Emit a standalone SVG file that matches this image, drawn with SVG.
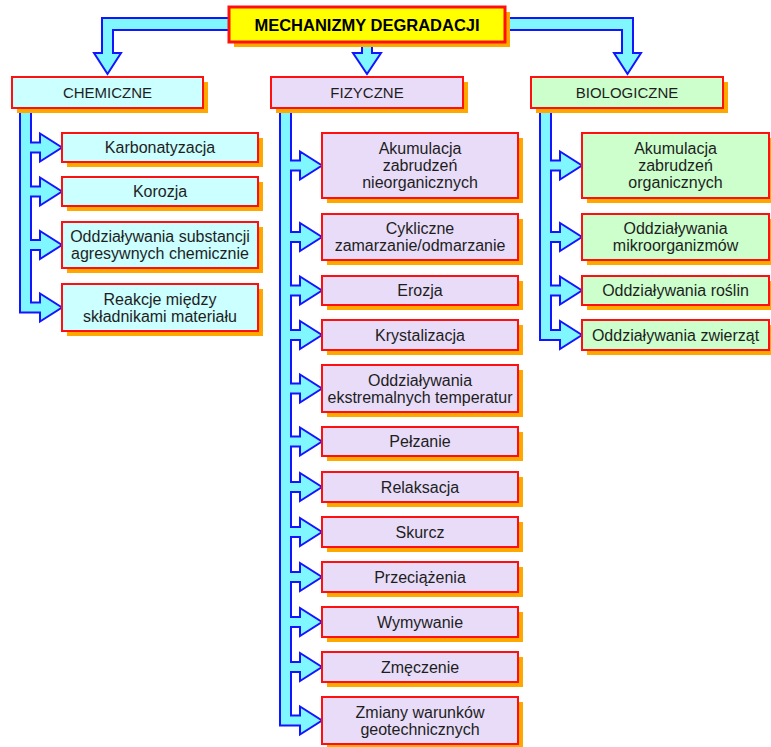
<svg xmlns="http://www.w3.org/2000/svg" width="771" height="747" viewBox="0 0 771 747">
  <style>
    .conn { fill: #80f6ff; stroke: #1414ff; stroke-width: 2; stroke-linejoin: miter; }
    .shadow { fill: #ffa800; }
    .box { stroke: #ff1010; stroke-width: 2; }
    .chem { fill: #ccffff; }
    .fiz { fill: #e8dcf8; }
    .bio { fill: #ccffcc; }
    .root { fill: #ffff00; stroke: #ff1010; stroke-width: 3; }
    text { font-family: "Liberation Sans", "DejaVu Sans", sans-serif; fill: #1e1e1e; text-anchor: middle; }
    .t { font-size: 16px; }
    .cat { font-size: 15px; }
    .title { font-size: 16.5px; font-weight: bold; fill: #000; }
  </style>
  <rect width="771" height="747" fill="#ffffff"/>

  <!-- connectors -->
  <g id="connectors">
    <polygon class="conn" points="235,18 102,18 102,53 94,53 107.5,74 121,53 113,53 113,30 235,30"/>
    <polygon class="conn" points="362,40 372,40 372,53 381,53 367,74 353,53 362,53"/>
    <polygon class="conn" points="500,18 633,18 633,53 641,53 627.5,74 614,53 622,53 622,30 500,30"/>
    <polygon class="conn" points="20,104 31,104
      31,142.5 40,142.5 40,133.5 62,147.5 40,161.5 40,152.5 31,152.5
      31,186.5 40,186.5 40,177.5 62,191.5 40,205.5 40,196.5 31,196.5
      31,240 40,240 40,231 62,245 40,259 40,250 31,250
      31,302.5 40,302.5 40,293.5 62,307.5 40,321.5 40,312.5 20,312.5"/>
    <polygon class="conn" points="280,104 291,104
      291,160.5 300,160.5 300,151.5 322,165.5 300,179.5 300,170.5 291,170.5
      291,232 300,232 300,223 322,237 300,251 300,242 291,242
      291,285.5 300,285.5 300,276.5 322,290.5 300,304.5 300,295.5 291,295.5
      291,330 300,330 300,321 322,335 300,349 300,340 291,340
      291,383.5 300,383.5 300,374.5 322,388.5 300,402.5 300,393.5 291,393.5
      291,436.5 300,436.5 300,427.5 322,441.5 300,455.5 300,446.5 291,446.5
      291,482 300,482 300,473 322,487 300,501 300,492 291,492
      291,527 300,527 300,518 322,532 300,546 300,537 291,537
      291,572 300,572 300,563 322,577 300,591 300,582 291,582
      291,617 300,617 300,608 322,622 300,636 300,627 291,627
      291,662 300,662 300,653 322,667 300,681 300,672 291,672
      291,715.5 300,715.5 300,706.5 322,720.5 300,734.5 300,725.5 280,725.5"/>
    <polygon class="conn" points="540,104 551,104
      551,160.5 560,160.5 560,151.5 582,165.5 560,179.5 560,170.5 551,170.5
      551,232 560,232 560,223 582,237 560,251 560,242 551,242
      551,285.5 560,285.5 560,276.5 582,290.5 560,304.5 560,295.5 551,295.5
      551,330 560,330 560,321 582,335 560,349 560,340 540,340"/>
  </g>

  <!-- root -->
  <g id="root">
    <rect class="shadow" x="234" y="12" width="276" height="35"/>
    <rect class="root" x="229" y="7" width="276" height="35"/>
    <text class="title" x="367" y="30.5">MECHANIZMY DEGRADACJI</text>
  </g>

  <!-- categories -->
  <g id="chemiczne">
    <rect class="shadow" x="17" y="82" width="191" height="31"/>
    <rect class="box chem" x="12" y="77" width="191" height="31"/>
    <text class="cat" x="107.5" y="98">CHEMICZNE</text>
  </g>
  <g id="fizyczne">
    <rect class="shadow" x="276" y="82" width="192" height="31"/>
    <rect class="box fiz" x="271" y="77" width="192" height="31"/>
    <text class="cat" x="367" y="98">FIZYCZNE</text>
  </g>
  <g id="biologiczne">
    <rect class="shadow" x="536" y="82" width="192" height="31"/>
    <rect class="box bio" x="531" y="77" width="192" height="31"/>
    <text class="cat" x="627" y="98">BIOLOGICZNE</text>
  </g>

  <!-- chemical mechanisms -->
  <g id="karbonatyzacja">
    <rect class="shadow" x="67" y="138" width="196" height="29"/>
    <rect class="box chem" x="62" y="133" width="196" height="29"/>
    <text class="t" x="160" y="153">Karbonatyzacja</text>
  </g>
  <g id="korozja">
    <rect class="shadow" x="67" y="182" width="196" height="29"/>
    <rect class="box chem" x="62" y="177" width="196" height="29"/>
    <text class="t" x="160" y="197">Korozja</text>
  </g>
  <g id="substancje-agresywne">
    <rect class="shadow" x="67" y="227" width="196" height="46"/>
    <rect class="box chem" x="62" y="222" width="196" height="46"/>
    <text class="t" x="160" y="242">Oddziaływania substancji</text>
    <text class="t" x="160" y="259">agresywnych chemicznie</text>
  </g>
  <g id="reakcje">
    <rect class="shadow" x="67" y="289" width="196" height="47"/>
    <rect class="box chem" x="62" y="284" width="196" height="47"/>
    <text class="t" x="160" y="304.5">Reakcje między</text>
    <text class="t" x="160" y="321.5">składnikami materiału</text>
  </g>

  <!-- physical mechanisms -->
  <g id="akumulacja-nieorg">
    <rect class="shadow" x="327" y="138" width="196" height="65"/>
    <rect class="box fiz" x="322" y="133" width="196" height="65"/>
    <text class="t" x="420" y="154">Akumulacja</text>
    <text class="t" x="420" y="171">zabrudzeń</text>
    <text class="t" x="420" y="188">nieorganicznych</text>
  </g>
  <g id="cykliczne">
    <rect class="shadow" x="327" y="219" width="196" height="46"/>
    <rect class="box fiz" x="322" y="214" width="196" height="46"/>
    <text class="t" x="420" y="234">Cykliczne</text>
    <text class="t" x="420" y="251">zamarzanie/odmarzanie</text>
  </g>
  <g id="erozja">
    <rect class="shadow" x="327" y="281" width="196" height="29"/>
    <rect class="box fiz" x="322" y="276" width="196" height="29"/>
    <text class="t" x="420" y="296">Erozja</text>
  </g>
  <g id="krystalizacja">
    <rect class="shadow" x="327" y="325" width="196" height="30"/>
    <rect class="box fiz" x="322" y="320" width="196" height="30"/>
    <text class="t" x="420" y="340.5">Krystalizacja</text>
  </g>
  <g id="temperatury">
    <rect class="shadow" x="327" y="370" width="196" height="47"/>
    <rect class="box fiz" x="322" y="365" width="196" height="47"/>
    <text class="t" x="420" y="385.5">Oddziaływania</text>
    <text class="t" x="420" y="402.5">ekstremalnych temperatur</text>
  </g>
  <g id="pelzanie">
    <rect class="shadow" x="327" y="432" width="196" height="29"/>
    <rect class="box fiz" x="322" y="427" width="196" height="29"/>
    <text class="t" x="420" y="447">Pełzanie</text>
  </g>
  <g id="relaksacja">
    <rect class="shadow" x="327" y="477" width="196" height="30"/>
    <rect class="box fiz" x="322" y="472" width="196" height="30"/>
    <text class="t" x="420" y="492.5">Relaksacja</text>
  </g>
  <g id="skurcz">
    <rect class="shadow" x="327" y="522" width="196" height="30"/>
    <rect class="box fiz" x="322" y="517" width="196" height="30"/>
    <text class="t" x="420" y="537.5">Skurcz</text>
  </g>
  <g id="przeciazenia">
    <rect class="shadow" x="327" y="567" width="196" height="30"/>
    <rect class="box fiz" x="322" y="562" width="196" height="30"/>
    <text class="t" x="420" y="582.5">Przeciążenia</text>
  </g>
  <g id="wymywanie">
    <rect class="shadow" x="327" y="612" width="196" height="30"/>
    <rect class="box fiz" x="322" y="607" width="196" height="30"/>
    <text class="t" x="420" y="627.5">Wymywanie</text>
  </g>
  <g id="zmeczenie">
    <rect class="shadow" x="327" y="657" width="196" height="30"/>
    <rect class="box fiz" x="322" y="652" width="196" height="30"/>
    <text class="t" x="420" y="672.5">Zmęczenie</text>
  </g>
  <g id="geotechniczne">
    <rect class="shadow" x="327" y="702" width="196" height="47"/>
    <rect class="box fiz" x="322" y="697" width="196" height="47"/>
    <text class="t" x="420" y="717.5">Zmiany warunków</text>
    <text class="t" x="420" y="734.5">geotechnicznych</text>
  </g>

  <!-- biological mechanisms -->
  <g id="akumulacja-org">
    <rect class="shadow" x="587" y="138" width="187" height="65"/>
    <rect class="box bio" x="582" y="133" width="187" height="65"/>
    <text class="t" x="675.5" y="154">Akumulacja</text>
    <text class="t" x="675.5" y="171">zabrudzeń</text>
    <text class="t" x="675.5" y="188">organicznych</text>
  </g>
  <g id="mikroorganizmy">
    <rect class="shadow" x="587" y="219" width="187" height="46"/>
    <rect class="box bio" x="582" y="214" width="187" height="46"/>
    <text class="t" x="675.5" y="234">Oddziaływania</text>
    <text class="t" x="675.5" y="251">mikroorganizmów</text>
  </g>
  <g id="rosliny">
    <rect class="shadow" x="587" y="281" width="187" height="29"/>
    <rect class="box bio" x="582" y="276" width="187" height="29"/>
    <text class="t" x="675.5" y="296">Oddziaływania roślin</text>
  </g>
  <g id="zwierzeta">
    <rect class="shadow" x="587" y="325" width="187" height="30"/>
    <rect class="box bio" x="582" y="320" width="187" height="30"/>
    <text class="t" x="675.5" y="340.5">Oddziaływania zwierząt</text>
  </g>
</svg>
